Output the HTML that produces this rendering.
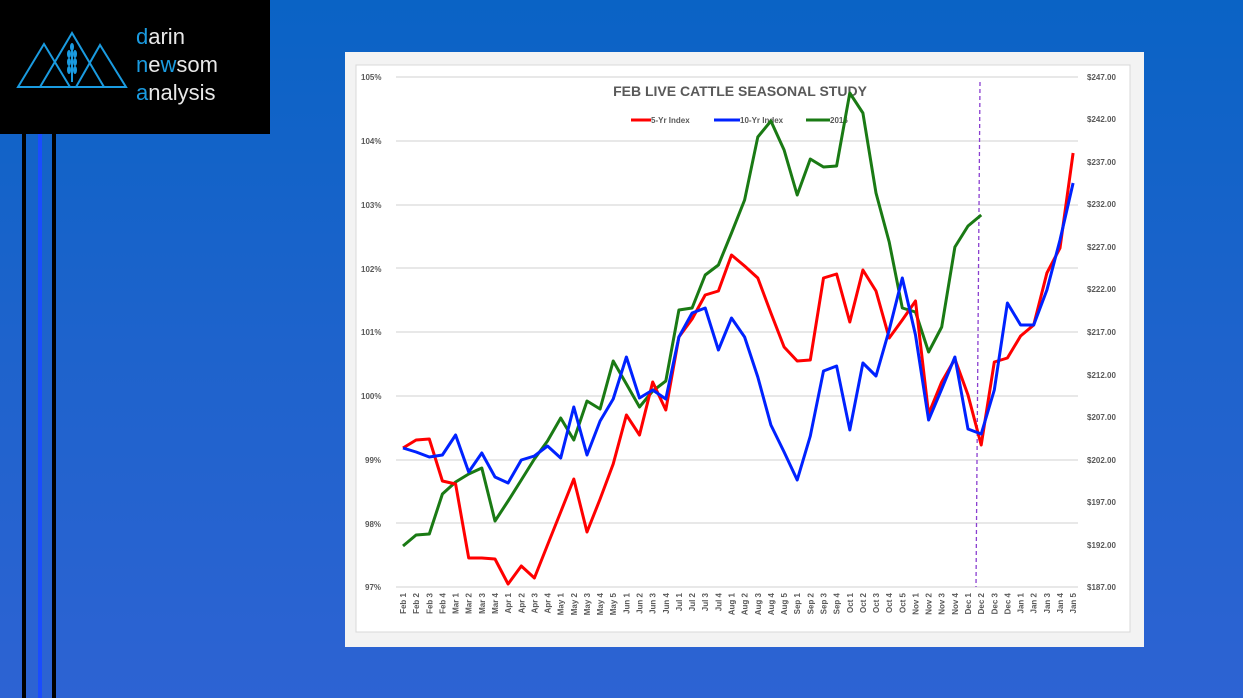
<!DOCTYPE html>
<html><head><meta charset="utf-8"><style>
html,body{margin:0;padding:0;width:1243px;height:698px;overflow:hidden}
body{background:linear-gradient(180deg,#0a63c5 0%,#1e63cc 50%,#2d63d3 100%);font-family:"Liberation Sans",sans-serif}
</style></head><body>
<svg width="1243" height="698" xmlns="http://www.w3.org/2000/svg" style="position:absolute;left:0;top:0">
<rect x="22" y="130" width="4" height="568" fill="#000"/>
<rect x="38" y="130" width="4" height="568" fill="#1a4cff"/>
<rect x="52" y="130" width="4" height="568" fill="#000"/>
<rect x="0" y="0" width="270" height="134" fill="#000"/>
<g fill="none" stroke="#1a9be0" stroke-width="2">
<polygon points="18,87 44,44 70,87"/>
<polygon points="40,87 72,33 104,87"/>
<polygon points="76,87 100,45 126,87"/>
<line x1="72" y1="45" x2="72" y2="82"/>
</g>
<g fill="#1a9be0"><ellipse cx="72" cy="47" rx="2" ry="4"/><ellipse cx="69" cy="54" rx="2" ry="4"/><ellipse cx="75" cy="54" rx="2" ry="4"/><ellipse cx="69" cy="62" rx="2" ry="4"/><ellipse cx="75" cy="62" rx="2" ry="4"/><ellipse cx="69" cy="70" rx="2" ry="4"/><ellipse cx="75" cy="70" rx="2" ry="4"/></g>
<g font-family="Liberation Sans,sans-serif" font-size="22" fill="#e8e8e8">
<text x="136" y="44"><tspan fill="#1a9be0">d</tspan>arin</text>
<text x="136" y="72"><tspan fill="#1a9be0">n</tspan>e<tspan fill="#1a9be0">w</tspan>som</text>
<text x="136" y="100"><tspan fill="#1a9be0">a</tspan>nalysis</text>
</g>
<rect x="345" y="52" width="799" height="595" fill="#f3f3f3"/>
<rect x="356" y="65" width="774" height="567" fill="#fff" stroke="#d9d9d9"/>
<g stroke="#d9d9d9" stroke-width="1.3">
<line x1="396" y1="77" x2="1078" y2="77"/><line x1="396" y1="141" x2="1078" y2="141"/><line x1="396" y1="205" x2="1078" y2="205"/><line x1="396" y1="268" x2="1078" y2="268"/><line x1="396" y1="332" x2="1078" y2="332"/><line x1="396" y1="396" x2="1078" y2="396"/><line x1="396" y1="460" x2="1078" y2="460"/><line x1="396" y1="523" x2="1078" y2="523"/><line x1="396" y1="587" x2="1078" y2="587"/>
</g>
<g font-size="8" font-weight="bold" fill="#595959">
<text x="361" y="80">105%</text><text x="361" y="144">104%</text><text x="361" y="208">103%</text><text x="361" y="272">102%</text><text x="361" y="335">101%</text><text x="361" y="399">100%</text><text x="365" y="463">99%</text><text x="365" y="527">98%</text><text x="365" y="590">97%</text>
<text x="1087" y="80">$247.00</text><text x="1087" y="122">$242.00</text><text x="1087" y="165">$237.00</text><text x="1087" y="207">$232.00</text><text x="1087" y="250">$227.00</text><text x="1087" y="292">$222.00</text><text x="1087" y="335">$217.00</text><text x="1087" y="378">$212.00</text><text x="1087" y="420">$207.00</text><text x="1087" y="463">$202.00</text><text x="1087" y="505">$197.00</text><text x="1087" y="548">$192.00</text><text x="1087" y="590">$187.00</text>
</g>
<g id="xl" font-size="8" font-weight="bold" fill="#595959"></g>
<text x="740" y="96" text-anchor="middle" font-size="14" font-weight="bold" fill="#595959">FEB LIVE CATTLE SEASONAL STUDY</text>
<g font-size="8" font-weight="bold" fill="#595959">
<line x1="631" y1="120" x2="651" y2="120" stroke="#f00" stroke-width="3"/><text x="651" y="123">5-Yr Index</text>
<line x1="714" y1="120" x2="740" y2="120" stroke="#0022ff" stroke-width="3"/><text x="740" y="123">10-Yr Index</text>
<line x1="806" y1="120" x2="830" y2="120" stroke="#1a7a14" stroke-width="3"/><text x="830" y="123">2016</text>
</g>
<line x1="980" y1="82" x2="976" y2="587" stroke="#8a3fd0" stroke-width="1.3" stroke-dasharray="4,3"/>
<polyline id="g" fill="none" stroke="#1a7a14" stroke-width="3" stroke-linejoin="round"/>
<polyline id="r" fill="none" stroke="#ff0000" stroke-width="3" stroke-linejoin="round"/>
<polyline id="b" fill="none" stroke="#0022ff" stroke-width="3" stroke-linejoin="round"/>
</svg>
<script>
var R=[448,440,439,481,484,558,558,559,584,566,578,545,512,479,532,499,464,415,435,382,410,337,319,295,291,255,266,278,313,347,361,360,278,274,322,270,291,338,320,301,414,382,359,395,445,362,358,336,325,273,248,153];
var B=[448,452,457,455,435,472,453,477,483,460,456,446,458,407,455,421,399,357,398,390,399,337,313,308,350,318,337,377,425,452,480,436,371,366,430,363,376,330,278,335,420,389,357,429,434,390,303,325,325,290,240,183];
var G=[546,535,534,494,482,474,468,521,501,480,459,441,418,440,401,409,361,384,407,391,381,310,308,275,265,233,200,137,121,150,195,159,167,166,93,113,193,242,308,312,352,327,247,226,215];
function pts(a){return a.map(function(y,i){return (403+13.14*i).toFixed(1)+","+y}).join(" ")}
document.getElementById("r").setAttribute("points",pts(R));
document.getElementById("b").setAttribute("points",pts(B));
document.getElementById("g").setAttribute("points",pts(G));
var L=["Feb 1","Feb 2","Feb 3","Feb 4","Mar 1","Mar 2","Mar 3","Mar 4","Apr 1","Apr 2","Apr 3","Apr 4","May 1","May 2","May 3","May 4","May 5","Jun 1","Jun 2","Jun 3","Jun 4","Jul 1","Jul 2","Jul 3","Jul 4","Aug 1","Aug 2","Aug 3","Aug 4","Aug 5","Sep 1","Sep 2","Sep 3","Sep 4","Oct 1","Oct 2","Oct 3","Oct 4","Oct 5","Nov 1","Nov 2","Nov 3","Nov 4","Dec 1","Dec 2","Dec 3","Dec 4","Jan 1","Jan 2","Jan 3","Jan 4","Jan 5"];
var g=document.getElementById("xl"),h="";
L.forEach(function(t,i){var x=(403+13.14*i+3).toFixed(1);h+='<text x="'+x+'" y="593" text-anchor="end" transform="rotate(-90 '+x+' 593)">'+t+'</text>';});
g.innerHTML=h;
</script>
</body></html>
